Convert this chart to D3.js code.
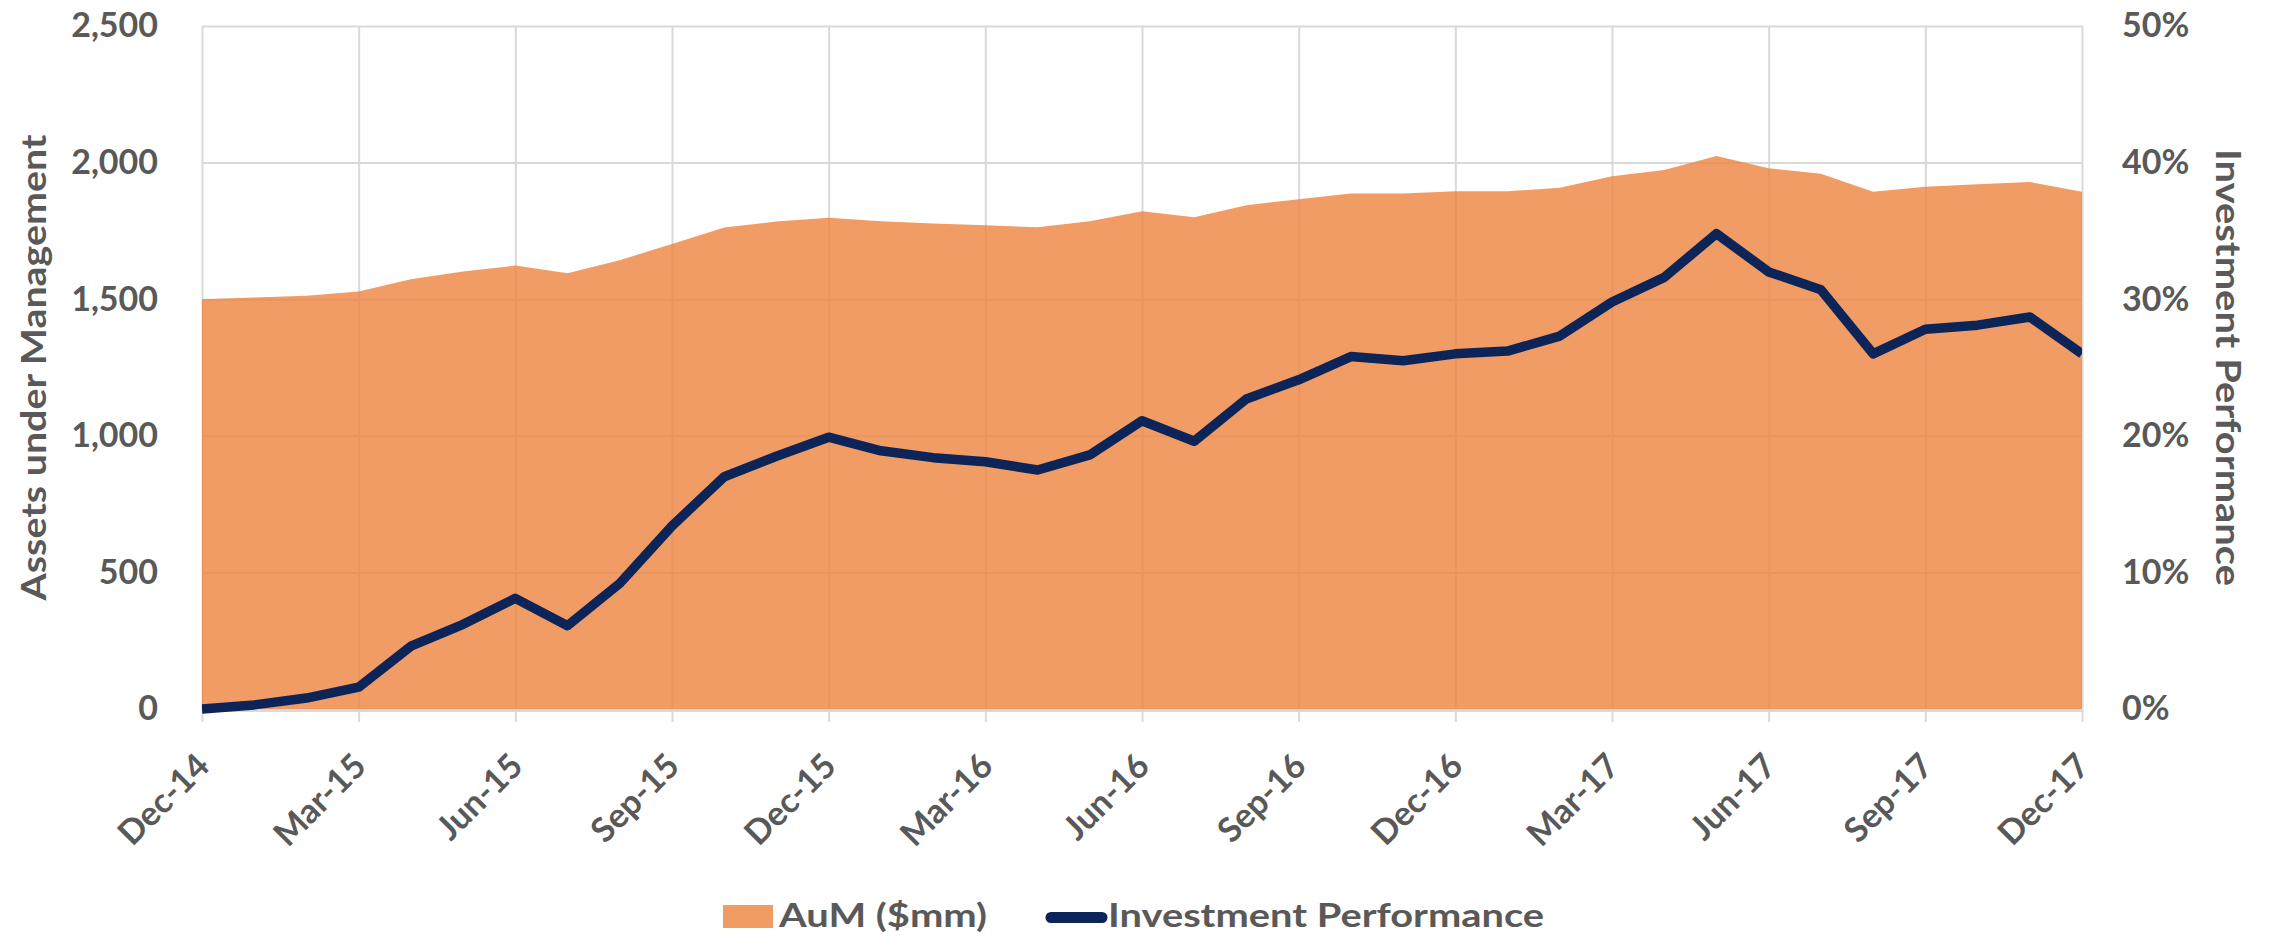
<!DOCTYPE html>
<html>
<head>
<meta charset="utf-8">
<script src="https://cdn.jsdelivr.net/npm/d3@7"></script>
<style>
  html, body { margin: 0; padding: 0; background: #fff; }
  svg { display: block; }
</style>
</head>
<body>
<svg id="chart" width="2277" height="937"></svg>
<script>
// Monthly observations, Dec-14 to Dec-17
const months = [
  "Dec-14","Jan-15","Feb-15","Mar-15","Apr-15","May-15","Jun-15","Jul-15","Aug-15","Sep-15","Oct-15","Nov-15",
  "Dec-15","Jan-16","Feb-16","Mar-16","Apr-16","May-16","Jun-16","Jul-16","Aug-16","Sep-16","Oct-16","Nov-16",
  "Dec-16","Jan-17","Feb-17","Mar-17","Apr-17","May-17","Jun-17","Jul-17","Aug-17","Sep-17","Oct-17","Nov-17",
  "Dec-17"
];

// Assets under management, $mm
const aum = [
  1500, 1506, 1513, 1528, 1573, 1601, 1623, 1595, 1643, 1702, 1762, 1784,
  1798, 1785, 1777, 1771, 1763, 1785, 1822, 1800, 1844, 1866, 1887, 1887,
  1895, 1895, 1908, 1950, 1973, 2024, 1979, 1959, 1893, 1912, 1921, 1929,
  1893
];

// Cumulative investment performance, %
const perf = [
  0.0, 0.3, 0.8, 1.6, 4.6, 6.2, 8.1, 6.1, 9.2, 13.4, 17.0, 18.5,
  19.9, 18.9, 18.4, 18.1, 17.5, 18.6, 21.1, 19.6, 22.7, 24.1, 25.8, 25.5,
  26.0, 26.2, 27.3, 29.8, 31.6, 34.8, 32.0, 30.7, 26.0, 27.8, 28.1, 28.7,
  26.0
];

const quarterTicks = ["Dec-14","Mar-15","Jun-15","Sep-15","Dec-15","Mar-16","Jun-16","Sep-16","Dec-16","Mar-17","Jun-17","Sep-17","Dec-17"];
const aumTicks = [0, 500, 1000, 1500, 2000, 2500];
const perfTicks = [0, 10, 20, 30, 40, 50];

const seriesNames = ["AuM ($mm)", "Investment Performance"];

// Layout
const plot = { left: 202, right: 2082, top: 26, bottom: 709 };
const tickDrop = 13;
const textColor = "#595959";
const gridColor = "#D9D9D9";
const areaColor = "#EC833D";
const lineColor = "#0C2458";
const font = "Lato, 'Open Sans', sans-serif";

const svg = d3.select("#chart");

const x = d3.scalePoint().domain(months).range([plot.left, plot.right]);
const yL = d3.scaleLinear().domain([0, 2500]).range([plot.bottom, plot.top]);
const yR = d3.scaleLinear().domain([0, 50]).range([plot.bottom, plot.top]);

function styleText(sel, size) {
  sel.attr("fill", textColor)
    .style("font-family", font)
    .style("font-weight", "bold")
    .style("font-size", size + "px");
}

// Horizontal gridlines
const hGrid = svg.append("g")
  .attr("transform", `translate(${plot.left},0)`)
  .call(d3.axisLeft(yL).tickValues(aumTicks).tickSize(-(plot.right - plot.left)).tickFormat(""));
hGrid.select(".domain").remove();
hGrid.selectAll("line").attr("stroke", gridColor).attr("stroke-width", 2);

// Vertical gridlines at quarter ends, extending below the axis as tick marks
const vGrid = svg.append("g")
  .attr("transform", `translate(0,${plot.bottom + tickDrop})`)
  .call(d3.axisBottom(x).tickValues(quarterTicks).tickSize(-(plot.bottom + tickDrop - plot.top)).tickFormat(""));
vGrid.select(".domain").remove();
vGrid.selectAll("line").attr("stroke", gridColor).attr("stroke-width", 2);

// AuM area
const area = d3.area()
  .x((d, i) => x(months[i]))
  .y0(yL(0))
  .y1(d => yL(d));
svg.append("path")
  .datum(aum)
  .attr("d", area)
  .attr("fill", areaColor)
  .attr("fill-opacity", 0.8);

// Category axis baseline
svg.append("g")
  .attr("transform", `translate(0,${plot.bottom + 1})`)
  .call(d3.axisBottom(x).tickValues([]).tickSizeOuter(0))
  .select(".domain").attr("stroke", gridColor).attr("stroke-width", 3);

// Performance line, clipped to the plot width
svg.append("clipPath").attr("id", "plot-clip")
  .append("rect")
  .attr("x", plot.left).attr("y", 0)
  .attr("width", plot.right - plot.left).attr("height", plot.bottom + 20);

const line = d3.line()
  .x((d, i) => x(months[i]))
  .y(d => yR(d));
svg.append("path")
  .datum(perf)
  .attr("d", line)
  .attr("clip-path", "url(#plot-clip)")
  .attr("fill", "none")
  .attr("stroke", lineColor)
  .attr("stroke-width", 9.5)
  .attr("stroke-linejoin", "round");

// Left axis labels
const fmtAum = d3.format(",");
const leftAxis = svg.append("g")
  .attr("transform", `translate(${plot.left},0)`)
  .call(d3.axisLeft(yL).tickValues(aumTicks).tickSize(0).tickPadding(44).tickFormat(fmtAum));
leftAxis.select(".domain").remove();
styleText(leftAxis.selectAll("text"), 34);

// Right axis labels
const rightAxis = svg.append("g")
  .attr("transform", `translate(${plot.right},0)`)
  .call(d3.axisRight(yR).tickValues(perfTicks).tickSize(0).tickPadding(40).tickFormat(d => d + "%"));
rightAxis.select(".domain").remove();
styleText(rightAxis.selectAll("text"), 34);

// Rotated quarter labels
const xAxis = svg.append("g")
  .attr("transform", `translate(0,${plot.bottom + tickDrop})`)
  .call(d3.axisBottom(x).tickValues(quarterTicks).tickSize(0));
xAxis.select(".domain").remove();
xAxis.selectAll("text")
  .attr("x", 0).attr("y", 0).attr("dy", 0)
  .attr("text-anchor", "end")
  .attr("transform", "translate(9,46) rotate(-45)");
styleText(xAxis.selectAll("text"), 34);

// Axis titles
const leftTitle = svg.append("text")
  .attr("transform", `translate(46,${(plot.top + plot.bottom) / 2}) rotate(-90)`)
  .attr("text-anchor", "middle")
  .attr("textLength", 466)
  .attr("lengthAdjust", "spacingAndGlyphs")
  .text("Assets under Management");
styleText(leftTitle, 35);

const rightTitle = svg.append("text")
  .attr("transform", `translate(2216,${(plot.top + plot.bottom) / 2}) rotate(90)`)
  .attr("text-anchor", "middle")
  .attr("textLength", 437)
  .attr("lengthAdjust", "spacingAndGlyphs")
  .text("Investment Performance");
styleText(rightTitle, 35);

// Legend
const legend = svg.append("g");
legend.append("rect")
  .attr("x", 723).attr("y", 905).attr("width", 50).attr("height", 23)
  .attr("fill", areaColor).attr("fill-opacity", 0.8);
const legText1 = legend.append("text")
  .attr("x", 779).attr("y", 927)
  .attr("textLength", 208)
  .attr("lengthAdjust", "spacingAndGlyphs")
  .text(seriesNames[0]);
styleText(legText1, 33);
legend.append("line")
  .attr("x1", 1051).attr("x2", 1102).attr("y1", 917.5).attr("y2", 917.5)
  .attr("stroke", lineColor).attr("stroke-width", 11).attr("stroke-linecap", "round");
const legText2 = legend.append("text")
  .attr("x", 1108).attr("y", 927)
  .attr("textLength", 436)
  .attr("lengthAdjust", "spacingAndGlyphs")
  .text(seriesNames[1]);
styleText(legText2, 33);
</script>
</body>
</html>
